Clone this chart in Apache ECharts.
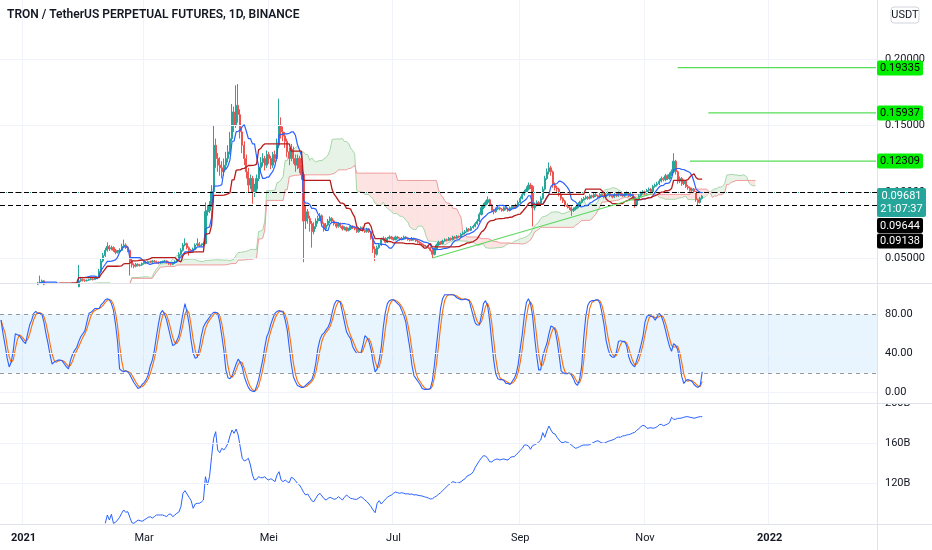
<!DOCTYPE html>
<html><head><meta charset="utf-8">
<script src="https://cdn.jsdelivr.net/npm/echarts@6/dist/echarts.min.js"></script>
<style>html,body{margin:0;padding:0;background:#fff}#c{width:932px;height:550px}</style>
</head><body><div id="c"></div>
<script>
// ---------- data ----------
const title = 'TRON / TetherUS PERPETUAL FUTURES, 1D, BINANCE';
const currency = 'USDT';
const axisStart = '2020-12-21';
const axisDays = 429;
const candleStart = '2020-12-21';
const firstOpen = 295;            // price in 1/10000 USDT
const priceUnit = 10000;
const closes = [
290,275,255,265,262,268,270,268,265,262,
267,265,270,275,285,300,295,305,315,320,
330,305,285,280,290,295,300,298,292,290,
295,275,265,270,280,285,290,285,330,340,
335,330,335,340,345,340,350,360,400,480,
520,560,590,570,580,560,545,550,560,590,
600,580,560,480,450,440,455,445,450,460,
470,465,475,470,480,475,470,465,470,475,
480,470,460,455,465,475,490,530,560,600,
610,580,560,550,570,600,610,595,600,610,
850,860,900,1000,1350,1250,1200,1180,1150,1200,
1250,1300,1400,1600,1500,1650,1580,1450,1350,1250,
1150,1050,1100,1000,1020,1100,1180,1220,1250,1200,
1280,1250,1200,1280,1250,1350,1500,1450,1420,1380,
1300,1250,1320,1250,1200,1250,1180,1130,780,850,
800,760,700,740,780,800,820,760,720,750,
780,800,780,760,740,760,740,720,730,710,
720,740,730,720,700,720,730,710,700,720,
700,650,570,530,580,600,640,650,620,650,
660,650,640,660,650,640,650,660,650,640,
635,650,640,630,620,610,600,590,590,580,
560,530,570,600,620,610,630,640,635,650,
640,660,650,665,660,680,690,700,720,710,
730,740,760,780,830,880,900,920,940,900,
860,850,870,880,870,860,880,870,860,880,
890,880,900,920,950,980,1000,1020,1050,1040,
880,900,920,910,950,1020,1100,1150,1180,1150,
1050,1030,1020,980,950,930,900,890,880,860,
870,880,900,920,940,950,960,950,970,960,
980,970,960,980,970,960,980,990,970,960,
980,970,990,980,970,980,990,970,980,960,
900,940,970,990,1000,990,1010,1020,1000,1040,
1050,1060,1080,1100,1090,1120,1100,1130,1150,1230,
1150,1080,1100,1060,1080,1040,1030,1010,1020,1000,
940,920,950,968];
const highs = [
300,293,278,268,270,272,276,274,271,268,
270,271,274,280,290,308,306,312,322,370,
340,335,310,290,295,300,306,304,302,297,
300,298,280,275,285,290,295,296,450,360,
348,342,340,347,352,350,356,368,420,500,
540,580,620,600,595,590,570,562,575,610,
640,612,590,565,495,462,465,462,458,468,
478,478,482,482,488,487,482,476,478,482,
488,485,476,466,472,484,500,545,575,615,
650,618,590,570,580,612,650,622,612,620,
920,900,930,1050,1500,1400,1290,1260,1230,1250,
1300,1350,1450,1660,1640,1800,1810,1620,1480,1380,
1280,1180,1130,1120,1060,1130,1210,1260,1290,1270,
1310,1300,1270,1300,1310,1400,1700,1560,1490,1450,
1400,1330,1360,1340,1280,1280,1270,1200,1150,900,
870,820,780,770,800,820,840,830,770,765,
795,815,810,790,770,772,768,748,740,738,
730,750,748,738,728,730,740,738,718,730,
726,705,655,590,595,615,655,665,658,660,
672,668,658,670,668,656,660,670,666,656,
648,660,655,648,638,628,618,608,600,598,
588,568,580,610,632,628,640,650,648,660,
656,670,668,675,672,690,702,712,732,728,
742,752,772,795,845,895,915,935,965,948,
910,870,882,892,888,878,890,888,878,890,
900,898,910,935,965,995,1015,1040,1070,1065,
1050,920,935,930,965,1040,1120,1175,1220,1195,
1160,1070,1045,1030,990,960,940,912,900,890,
882,892,912,932,952,962,972,968,982,978,
992,990,978,992,988,978,995,1002,998,978,
992,990,1002,998,988,992,1002,998,992,988,
965,952,982,1002,1012,1008,1022,1032,1028,1052,
1062,1075,1095,1115,1110,1135,1130,1145,1168,1290,
1240,1160,1115,1110,1092,1088,1052,1040,1032,1028,
1005,950,962,975];
const lows = [
285,270,248,252,258,259,264,263,260,257,
259,260,262,267,272,282,290,292,300,310,
315,298,278,272,276,286,291,292,287,285,
286,270,260,262,267,276,281,280,283,322,
325,322,325,330,335,333,336,345,355,395,
470,510,550,555,560,548,530,535,540,555,
580,570,545,370,430,425,432,438,438,443,
452,455,458,462,463,466,462,455,458,462,
468,460,450,445,448,458,468,485,522,550,
590,568,520,538,542,562,592,585,588,592,
605,820,840,885,980,1180,1150,1120,1100,1120,
1170,1220,1280,1380,1450,1480,1520,1400,1290,1200,
1100,990,1020,910,960,1000,1080,1150,1190,1160,
1180,1210,1170,1180,1220,1230,1330,1400,1380,1330,
1260,1200,1230,1210,1150,1170,1140,1090,470,720,
760,700,580,680,720,760,780,740,700,705,
740,765,765,745,725,730,728,708,710,700,
702,712,720,710,690,692,712,700,690,692,
690,640,540,480,520,570,592,630,612,615,
642,640,632,635,642,632,634,644,642,632,
626,630,632,622,612,602,592,582,580,570,
550,500,522,562,594,600,604,624,626,630,
632,634,642,644,652,654,672,682,694,700,
704,722,732,752,772,822,868,890,905,890,
848,830,842,862,860,850,852,860,850,852,
872,870,872,892,912,942,970,990,1010,1020,
740,860,890,895,905,940,1010,1090,1130,1120,
1030,1010,1000,965,935,915,885,875,862,820,
848,860,872,892,912,932,940,940,942,950,
952,960,950,952,960,950,952,970,960,950,
952,960,962,970,960,962,972,960,962,950,
880,892,932,962,980,978,982,1000,990,992,
1030,1040,1050,1070,1078,1080,1088,1090,1120,1140,
1130,1060,1065,1045,1050,1028,1015,1000,1000,990,
925,900,912,940];
const stochK = [
74,60,48,35,26,31,43,60,59,58,
55,52,50,60,69,74,81,83,81,81,
80,72,60,50,38,29,31,32,33,33,
32,29,26,24,33,39,43,46,52,57,
60,63,72,81,82,84,86,86,86,90,
92,95,96,95,91,84,70,52,24,22,
21,22,21,18,14,10,7,4,5,8,
10,13,18,27,33,43,57,70,81,84,
80,74,65,56,48,49,53,58,69,81,
91,82,70,53,40,35,36,45,58,67,
71,74,77,80,82,82,81,72,58,43,
23,15,14,17,23,29,34,31,26,16,
10,5,2,1,0.5,6,13,23,33,46,
57,62,70,76,81,83,84,83,82,74,
64,46,29,16,11,7,6,5,5,7,
9,11,13,19,30,45,54,59,61,64,
67,72,82,90,94,94,92,82,72,62,
58,55,47,43,40,40,40,48,58,56,
52,44,31,21,24,33,46,67,82,91,
94,95,95,93,91,89,84,79,72,58,
45,28,17,14,11,8,4,3,3,3,
4,12,28,48,67,86,96,100,100,100,
100,100,99,97,96,95,95,96,95,94,
86,78,71,69,69,79,91,94,89,74,
53,33,19,14,13,13,12,9,9,8,
11,14,19,29,45,60,79,92,96,91,
79,57,38,23,23,37,44,50,60,68,
67,64,53,38,22,20,19,19,20,18,
14,9,7,13,26,55,77,89,93,94,
94,95,95,91,81,69,53,44,38,36,
36,41,52,53,52,52,48,37,31,28,
26,33,40,48,57,72,78,79,78,77,
74,78,81,78,72,64,55,47,42,50,
48,44,31,16,9,12,13,12,11,8,
6,5,7,21];
const capStart = '2021-02-10';
const capValues = [
79.7,88,83,88.7,79.7,80.7,83,85.7,89.7,93,
90.7,91.3,85.7,80.3,79.7,81.3,83,82.3,81.7,83,
84.3,85.7,86.3,85,86.3,88,88,88,88,87.3,
86.3,88.7,89,86.3,88,89.7,91,96.3,109.7,112.3,
109,105.7,102.3,94.7,99,99.7,99.7,101,103,126.3,
118,126.3,146.3,164.7,171.3,153,150.3,154.7,153,155.7,
159.7,167,173,169.7,174,168,156.3,144.7,142,143,
144.7,138,128,123,123.7,126.3,125.3,125.3,126.3,124,
123,124.3,123,121.3,128,131.3,123,121.3,123,121.3,
120.3,125.7,124.7,122.3,119.7,118,114.7,110.7,108,109,
105.7,102.3,101.3,104.7,108,109.7,107,104.3,103,104.7,
105.7,104.7,103.7,104.3,106.3,104.7,103,105.7,108,106.3,
104.7,104.3,103.7,103.7,105,106.3,105,103,101.3,99,
96.3,93,90.3,99.7,102.3,99,101.3,103.7,105.7,107,
108,109.7,111,110.3,109.7,110.3,109.7,109,109.3,108.7,
109,108,108.3,107.7,107.3,107,106.3,105.7,105,104,
104.3,105.7,107,108.7,110.3,112.3,114.3,116.3,118.3,119.7,
121.3,120.7,119.7,120.3,121.3,123,124.3,127,128,129,
131.3,135.7,139,142.3,145,147.3,147,144.7,141.3,141,
142.7,143.7,144,143,143.7,144,143.3,143,145.3,146.3,
146.3,148.3,150.3,152.7,154.7,158,158,157,153.7,157.3,
158.3,159.3,161,163,170.3,165.7,172,177,173,169.7,
169,165.7,163,160.7,160.3,161.3,160.7,159.7,158,156.3,
154.7,155.3,156.3,157.3,158,158,158,158.3,159.7,160.7,
161.7,162.3,161,160,159.7,160.7,161.7,162.3,163,163.7,
165.3,166,165.7,167,167.3,168,168.3,169,170,170.7,
172.7,174.3,176.3,177.7,177,174.7,175,175.3,174.7,175.3,
176.3,178.3,178.7,177.3,178,179,180.3,185.7,183.7,183.7,
184.7,184.7,185,185.7,186.3,186.3,185.7,185.3,184.7,185.3,
186,186.3,186.3];
const priceTicks = [0.05, 0.10, 0.15, 0.20];
const stochTicks = [0, 40, 80];
const stochBand = [20, 80];
const capTicks = [120, 160, 200];
const monthTickDates = ['2021-01-01','2021-03-01','2021-05-01','2021-07-01','2021-09-01','2021-11-01','2022-01-01'];
const monthTickNames = ['2021','Mar','Mei','Jul','Sep','Nov','2022'];
const targetLevels = [0.19335, 0.15937, 0.12309];
const targetStarts = ['2021-11-17', '2021-12-02', '2021-11-23'];
const lastPrice = 0.09681;
const countdown = '21:07:37';
const supportLevels = [0.09644, 0.09138];
const trendStart = ['2021-07-20', 0.0502];
const trendEnd = ['2021-11-04', 0.0983];

// ---------- derived ----------
function addDays(s, n) { const d = new Date(s + 'T00:00:00Z'); d.setUTCDate(d.getUTCDate() + n); return d.toISOString().slice(0, 10); }
const dates = []; for (let i = 0; i < axisDays; i++) dates.push(addDays(axisStart, i));
const idxOf = s => dates.indexOf(s);
const cOff = idxOf(candleStart);
const P = v => v / priceUnit;
const C = closes.map(P), H = highs.map(P), L = lows.map(P);
const O = C.map((c, i) => i === 0 ? P(firstOpen) : C[i - 1]);
const nC = C.length;
const candleData = []; for (let i = 0; i < cOff; i++) candleData.push('-');
for (let i = 0; i < nC; i++) candleData.push([O[i], C[i], L[i], H[i]]);
function mid(i, n) { let hi = -Infinity, lo = Infinity; for (let j = Math.max(0, i - n + 1); j <= i; j++) { hi = Math.max(hi, H[j]); lo = Math.min(lo, L[j]); } return (hi + lo) / 2; }
const tenkan = [], kijun = [], spanA = [], spanB = [];
const shift = 26;
for (let i = 0; i < cOff + nC + shift; i++) { tenkan.push(null); kijun.push(null); spanA.push(null); spanB.push(null); }
for (let i = 0; i < nC; i++) {
  const t = mid(i, 9), k = mid(i, 26);
  tenkan[cOff + i] = t; kijun[cOff + i] = k;
  spanA[cOff + i + shift] = (t + k) / 2; spanB[cOff + i + shift] = mid(i, 52);
}
const cloudData = [];
for (let i = 1; i < spanA.length; i++) if (spanA[i] != null && spanA[i - 1] != null) cloudData.push([i, spanA[i], spanB[i], spanA[i - 1], spanB[i - 1]]);
const stochD = stochK.map((v, i) => { const s = stochK.slice(Math.max(0, i - 2), i + 1); return s.reduce((a, b) => a + b, 0) / s.length; });
const pad = (arr, off) => new Array(off).fill(null).concat(arr);
const kData = pad(stochK, cOff), dData = pad(stochD, cOff);
const capData = pad(capValues, idxOf(capStart));

const FONT = 'Roboto, "Noto Sans", sans-serif';
const TXT = '#131722';
const GRIDC = '#f0f3fa';
const lastIdx = axisDays - 1;
const TARGET_LINE = '#55dd55';
const TARGET_BOX = '#00f000';

function helper(name, xi, values, z) {
  return { name, type: 'line', xAxisIndex: xi, yAxisIndex: xi, data: [], z, silent: true,
    markLine: { silent: true, symbol: ['none', 'none'], label: { show: false }, animation: false,
      lineStyle: { color: GRIDC, width: 1, type: 'solid' }, data: values.map(v => ({ yAxis: v })) } };
}
function segSeries(name, x1, y1, x2, y2, color, width) {
  return { name, type: 'line', xAxisIndex: 0, yAxisIndex: 0, z: 6, silent: true, symbol: 'none',
    data: [[x1, y1], [x2, y2]], lineStyle: { color, width, type: 'solid' }, itemStyle: { color } };
}

const option = {
  animation: false,
  backgroundColor: '#ffffff',
  textStyle: { fontFamily: FONT },
  grid: [
    { left: 0, right: 55, top: 0, height: 283 },
    { left: 0, right: 55, top: 284, height: 119 },
    { left: 0, right: 55, top: 403, height: 121 }
  ],
  xAxis: [0, 1, 2].map(g => ({
    type: 'category', gridIndex: g, data: dates, boundaryGap: true,
    axisLine: { show: false }, axisTick: { show: false },
    axisLabel: g === 2 ? {
      show: true, color: TXT, fontSize: 11, margin: 9, fontFamily: FONT,
      interval: (i, v) => monthTickDates.includes(v),
      formatter: v => { const k = monthTickDates.indexOf(v); const n = monthTickNames[k] || ''; return /^\d{4}$/.test(n) ? '{y|' + n + '}' : n; },
      rich: { y: { fontWeight: 'bold', fontSize: 11, color: TXT, fontFamily: FONT } }
    } : { show: false },
    splitLine: { show: true, interval: (i, v) => monthTickDates.includes(v), lineStyle: { color: GRIDC, width: 1 } }
  })),
  yAxis: [
    { type: 'value', gridIndex: 0, position: 'right', min: 0.0314, max: 0.2442, scale: true,
      axisLine: { show: false }, axisTick: { show: false }, splitLine: { show: false },
      axisLabel: { customValues: priceTicks, formatter: v => v.toFixed(5), color: TXT, fontSize: 11, margin: 8, fontFamily: FONT } },
    { type: 'value', gridIndex: 1, position: 'right', min: -11, max: 111.1,
      axisLine: { show: false }, axisTick: { show: false }, splitLine: { show: false },
      axisLabel: { customValues: stochTicks, formatter: v => v.toFixed(2), color: TXT, fontSize: 11, margin: 8, fontFamily: FONT } },
    { type: 'value', gridIndex: 2, position: 'right', min: 79, max: 200,
      axisLine: { show: false }, axisTick: { show: false }, splitLine: { show: false },
      axisLabel: { customValues: capTicks, formatter: v => v + 'B', color: TXT, fontSize: 11, margin: 8, fontFamily: FONT } }
  ],
  series: [
    helper('priceGrid', 0, priceTicks, 1),
    { name: 'cloud', type: 'custom', xAxisIndex: 0, yAxisIndex: 0, z: 2, clip: true, silent: true,
      data: cloudData, encode: { x: 0, y: [1, 2] },
      renderItem: (params, api) => {
        const i = api.value(0), a = api.value(1), b = api.value(2), pa = api.value(3), pb = api.value(4);
        const up = (a + pa) >= (b + pb);
        return { type: 'polygon', shape: { points: [api.coord([i - 1, pa]), api.coord([i, a]), api.coord([i, b]), api.coord([i - 1, pb])] },
          style: { fill: up ? 'rgba(67,160,71,0.13)' : 'rgba(244,67,54,0.14)', stroke: null } };
      } },
    { name: 'spanA', type: 'line', xAxisIndex: 0, yAxisIndex: 0, data: spanA, z: 3, symbol: 'none', silent: true,
      lineStyle: { color: '#A5D6A7', width: 1 } },
    { name: 'spanB', type: 'line', xAxisIndex: 0, yAxisIndex: 0, data: spanB, z: 3, symbol: 'none', silent: true,
      lineStyle: { color: '#EF9A9A', width: 1 } },
    { name: 'price', type: 'candlestick', xAxisIndex: 0, yAxisIndex: 0, data: candleData, z: 4, barWidth: 1.7, silent: true,
      itemStyle: { color: '#26a69a', color0: '#ef5350', borderColor: '#26a69a', borderColor0: '#ef5350', borderWidth: 1 } },
    { name: 'tenkan', type: 'line', xAxisIndex: 0, yAxisIndex: 0, data: tenkan, z: 5, symbol: 'none', silent: true,
      lineStyle: { color: '#2962FF', width: 1.2 } },
    { name: 'kijun', type: 'line', xAxisIndex: 0, yAxisIndex: 0, data: kijun, z: 5, symbol: 'none', silent: true,
      lineStyle: { color: '#B71C1C', width: 1.3 } },
    { name: 'levels', type: 'line', xAxisIndex: 0, yAxisIndex: 0, data: [], z: 6, silent: true,
      markLine: { silent: true, symbol: ['none', 'none'], label: { show: false }, animation: false,
        data: [
          { yAxis: lastPrice, lineStyle: { color: '#26a69a', type: [1, 2], width: 1 } },
          ...supportLevels.map(v => ({ yAxis: v, lineStyle: { color: '#000000', type: [5, 3], width: 1 } }))
        ] } },
    ...targetLevels.map((v, k) => segSeries('target' + k, idxOf(targetStarts[k]), v, lastIdx, v, TARGET_LINE, 1.2)),
    segSeries('trend', idxOf(trendStart[0]), trendStart[1], idxOf(trendEnd[0]), trendEnd[1], '#5ed65e', 1.2),
    helper('stochGrid', 1, stochTicks.filter(v => v !== 80), 1),
    { name: '%K', type: 'line', xAxisIndex: 1, yAxisIndex: 1, data: kData, z: 4, symbol: 'none', silent: true,
      lineStyle: { color: '#2962FF', width: 1.1 },
      markArea: { silent: true, itemStyle: { color: 'rgba(33,150,243,0.1)' }, data: [[{ yAxis: stochBand[0] }, { yAxis: stochBand[1] }]] },
      markLine: { silent: true, symbol: ['none', 'none'], label: { show: false }, animation: false,
        lineStyle: { color: '#9598a1', width: 1, type: [4, 4] }, data: stochBand.map(v => ({ yAxis: v })) } },
    { name: '%D', type: 'line', xAxisIndex: 1, yAxisIndex: 1, data: dData, z: 3, symbol: 'none', silent: true,
      lineStyle: { color: '#FF6D00', width: 1.1 } },
    helper('capGrid', 2, capTicks, 1),
    { name: 'cap', type: 'line', xAxisIndex: 2, yAxisIndex: 2, data: capData, z: 4, symbol: 'none', silent: true,
      lineStyle: { color: '#2962FF', width: 1 } }
  ]
};

const chart = echarts.init(document.getElementById('c'), null, { renderer: 'canvas' });
chart.setOption(option);

// ---------- overlay: title, separators, price scale labels ----------
const yOf = v => chart.convertToPixel({ xAxisIndex: 0, yAxisIndex: 0 }, [0, v])[1];
const txt = (text, x, y, fill, font, align) => ({ type: 'text', z: 120, silent: true,
  style: { text, x, y, fill, font, align: align || 'left', verticalAlign: 'middle', textAlign: align || 'left', textVerticalAlign: 'middle' } });
function box(text, x, y, w, h, bg, fg) {
  return { type: 'group', x, y, z: 110, silent: true, children: [
    { type: 'rect', z: 110, shape: { x: 0, y: 0, width: w, height: h, r: 2 }, style: { fill: bg } },
    txt(text, w / 2, h / 2 + 0.5, fg, '11px ' + FONT, 'center') ] };
}
const AX = 877;
const gfx = [];
gfx.push({ type: 'rect', z: 105, silent: true, shape: { x: AX + 1, y: 396.5, width: 55, height: 6.5 }, style: { fill: '#ffffff' } });
[[0, 283.5, 932, 283.5], [0, 403.5, 932, 403.5], [0, 524.5, 932, 524.5], [AX + 0.5, 0, AX + 0.5, 550]].forEach(s =>
  gfx.push({ type: 'line', z: 106, silent: true, shape: { x1: s[0], y1: s[1], x2: s[2], y2: s[3] }, style: { stroke: '#e0e3eb', lineWidth: 1 } }));
gfx.push(txt(title, 7, 15, TXT, '600 12px ' + FONT));
gfx.push({ type: 'group', x: 891, y: 7, z: 110, silent: true, children: [
  { type: 'rect', z: 110, shape: { x: 0, y: 0, width: 28, height: 16, r: 3 }, style: { fill: '#ffffff', stroke: '#d1d4dc', lineWidth: 1 } },
  txt(currency, 14, 8.5, TXT, '11px ' + FONT, 'center') ] });
targetLevels.forEach(v => gfx.push(box(v.toFixed(5), AX, Math.round(yOf(v)) - 7.5, 46, 15, TARGET_BOX, '#000000')));
const yl = Math.round(yOf(lastPrice));
gfx.push({ type: 'group', x: AX, y: yl - 8, z: 110, silent: true, children: [
  { type: 'rect', z: 110, shape: { x: 0, y: 0, width: 49, height: 29, r: 2 }, style: { fill: '#26a69a' } },
  txt(lastPrice.toFixed(5), 24.5, 8, '#ffffff', '11px ' + FONT, 'center'),
  txt(countdown, 24.5, 21.5, '#ffffff', '11px ' + FONT, 'center') ] });
supportLevels.forEach((v, k) => gfx.push(box(v.toFixed(5), AX, yl + 22 + k * 15.5, 46, 15, '#000000', '#ffffff')));
chart.setOption({ graphic: gfx });
</script>
</body></html>
